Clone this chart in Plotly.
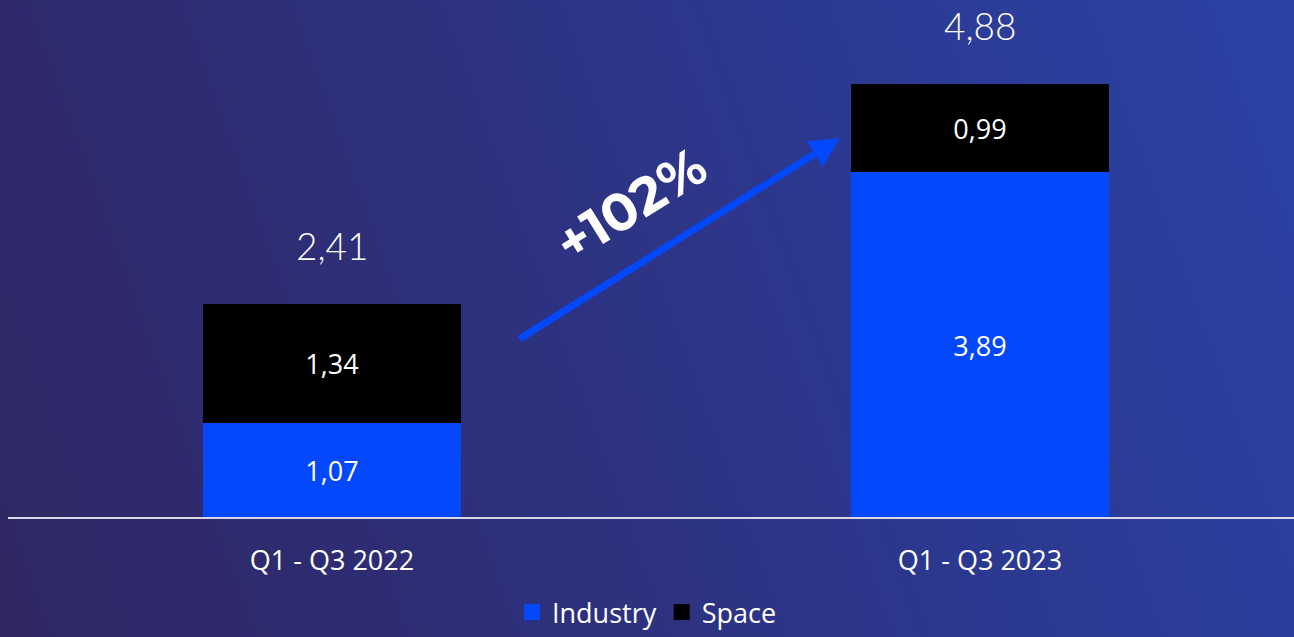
import plotly.graph_objects as go

categories = ["Q1 - Q3 2022", "Q1 - Q3 2023"]
industry = [1.07, 3.89]
space = [1.34, 0.99]
growth_label = "+102%"

BAR_BLUE = "#0448fb"
W, H = 1294, 637
AXIS_Y_PX = 518
PX_PER_UNIT = 88.9
C0_PX, C1_PX = 332, 980

totals = [a + b for a, b in zip(industry, space)]

fig = go.Figure()

# background gradient (heatmap on its own full-page axes)
n = 2
zgrid = [[0.85 * (i / (n - 1)) + 0.15 * (j / (n - 1)) for i in range(n)] for j in range(n)]
fig.add_trace(go.Heatmap(
    z=zgrid, x=[0, 1], y=[0, 1], zsmooth="best", showscale=False, hoverinfo="skip",
    colorscale=[[0, "#2f2862"], [0.15, "#2e2a6c"], [0.75, "#2c3b96"], [1, "#2b42a6"]],
    zmin=0, zmax=1, xaxis="x", yaxis="y", showlegend=False,
))

series = [("Industry", industry, BAR_BLUE), ("Space", space, "#000000")]
for name, vals, col in series:
    fig.add_trace(go.Bar(
        name=name, x=categories, y=vals, marker=dict(color=col, line=dict(width=0)),
        texttemplate="%{y:.2f}", textposition="inside", insidetextanchor="middle",
        textfont=dict(color="white", size=27, family="Open Sans"),
        xaxis="x2", yaxis="y2", width=258 / 648, showlegend=False,
    ))
# legend entries with larger square swatches
for name, vals, col in series:
    fig.add_trace(go.Scatter(
        name=name, x=[None], y=[None], mode="markers",
        marker=dict(symbol="square", size=16, color=col),
        xaxis="x2", yaxis="y2", showlegend=True,
    ))

for c, t in zip(categories, totals):
    fig.add_annotation(
        x=c, y=t, xref="x2", yref="y2", text=f"{t:.2f}".replace(".", ","),
        showarrow=False, yanchor="bottom", yshift=34,
        font=dict(color="white", size=37, family="Lato", weight=300),
    )

# growth arrow
fig.add_annotation(
    x=840 / W, y=1 - 138 / H, xref="paper", yref="paper",
    ax=518 - 840, ay=340 - 138, axref="pixel", ayref="pixel",
    showarrow=True, arrowhead=2, arrowsize=0.85, arrowwidth=7, arrowcolor=BAR_BLUE,
    text="",
)
fig.add_annotation(
    x=630 / W, y=1 - 205 / H, xref="paper", yref="paper", xanchor="center", yanchor="middle",
    text=f"<b>{growth_label}</b>", showarrow=False, textangle=-32,
    font=dict(color="white", size=53, family="Montserrat, Lato, Open Sans", weight=700),
)

# baseline
fig.add_shape(type="line", xref="paper", yref="paper",
              x0=8 / W, x1=1, y0=1 - AXIS_Y_PX / H, y1=1 - AXIS_Y_PX / H,
              line=dict(color="#d8d8e8", width=2))

ydom0 = 1 - AXIS_Y_PX / H
ymax = AXIS_Y_PX / PX_PER_UNIT
xmin = -C0_PX / (C1_PX - C0_PX)
xmax = (W - C0_PX) / (C1_PX - C0_PX)

fig.update_layout(
    width=W, height=H,
    margin=dict(l=0, r=0, t=0, b=0, autoexpand=False),
    paper_bgcolor="#2e2a6c",
    plot_bgcolor="rgba(0,0,0,0)",
    barmode="stack",
    separators=", ",
    font=dict(family="Open Sans", color="white"),
    xaxis=dict(domain=[0, 1], range=[0, 1], visible=False, fixedrange=True),
    yaxis=dict(domain=[0, 1], range=[0, 1], visible=False, fixedrange=True),
    xaxis2=dict(domain=[0, 1], anchor="y2", range=[xmin, xmax], showline=False,
                showgrid=False, zeroline=False, ticks="", ticklabelstandoff=24,
                automargin=False,
                tickfont=dict(size=27, color="white", family="Open Sans")),
    yaxis2=dict(domain=[ydom0, 1], anchor="x2", range=[0, ymax], visible=False,
                showgrid=False, zeroline=False, automargin=False),
    legend=dict(orientation="h", x=0.5, xanchor="center", y=0, yanchor="bottom",
                font=dict(size=27, color="white", family="Open Sans"),
                bgcolor="rgba(0,0,0,0)", itemwidth=30, traceorder="normal"),
    showlegend=True,
)

fig.write_html(
    "out.html",
    config={"displayModeBar": False},
    post_script=(
        "document.documentElement.style.margin='0';"
        "document.documentElement.style.overflow='hidden';"
        "document.body.style.margin='0';"
        "document.body.style.overflow='hidden';"
        "document.body.style.background='#2c3590';"
    ),
)
